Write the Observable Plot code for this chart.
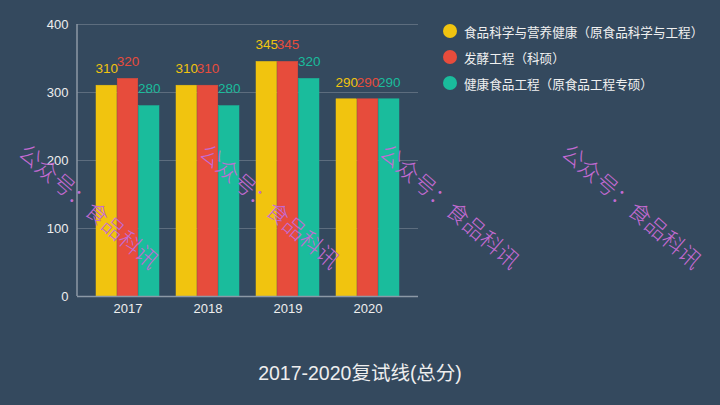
<!DOCTYPE html>
<html><head><meta charset="utf-8">
<script src="https://cdn.jsdelivr.net/npm/d3@7"></script>
<script src="https://cdn.jsdelivr.net/npm/@observablehq/plot@0.6"></script>
<style>
html,body{margin:0;padding:0;background:#34495e;}
#root{position:relative;width:720px;height:405px;overflow:hidden;background:#34495e;font-family:"Liberation Sans","Noto Sans CJK SC",sans-serif;}
#chart{position:absolute;left:0;top:0;}
#legend{position:absolute;left:443px;top:18px;color:#f0f0f0;font-size:12.6px;font-family:"Noto Sans CJK SC",sans-serif;}
.item{display:flex;align-items:center;height:26px;white-space:nowrap;}
.dot{width:14px;height:14px;border-radius:50%;margin-right:7px;flex:none;}
#title{position:absolute;left:0;width:720px;top:363px;line-height:20px;text-align:center;color:#eee;font-size:19.5px;font-family:"Liberation Sans","Noto Sans CJK SC",sans-serif;}
.wm{position:absolute;color:#c46bd3;font-size:22px;line-height:24px;white-space:nowrap;transform:translate(-50%,-50%) rotate(41deg);font-family:"Noto Sans CJK SC",sans-serif;font-weight:300;pointer-events:none;}
</style>
</head><body>
<div id="root">
  <div id="chart"></div>
  <div id="legend"></div>
  <div id="title"></div>
</div>
<script>
const years = ["2017", "2018", "2019", "2020"];
const series = ["食品科学与营养健康（原食品科学与工程）", "发酵工程（科硕）", "健康食品工程（原食品工程专硕）"];
const colors = ["#f1c40f", "#e74c3c", "#1abc9c"];
const scoresA = [310, 310, 345, 290];
const scoresB = [320, 310, 345, 290];
const scoresC = [280, 280, 320, 290];
const yTicks = [0, 100, 200, 300, 400];
const titleText = "2017-2020复试线(总分)";
const watermarkText = "公众号：食品科讯";

const values = [scoresA, scoresB, scoresC];
const rows = years.flatMap((yr, i) => series.map((s, j) => ({year: yr, series: s, k: j, value: values[j][i]})));

const W = 720, H = 330, mL = 77, mR = 302, mT = 24, mB = 34;
const padI = 0.21, padO = 0.22;
const step = (W - mL - mR) / (years.length - padI + 2 * padO);
const sub = step * (1 - padI) / series.length;

const marks = [
  Plot.gridY(yTicks, {stroke: "#5d6d7e", strokeOpacity: 1}),
  ...series.map((s, j) => Plot.barY(rows.filter(r => r.k === j), {
    x: "year", y: "value", fill: colors[j], stroke: colors[j], strokeWidth: 0.5,
    insetLeft: j * sub, insetRight: (series.length - 1 - j) * sub
  })),
  ...series.map((s, j) => Plot.text(rows.filter(r => r.k === j), {
    x: "year", y: "value", text: d => String(d.value), fill: colors[j],
    dx: (j - 1) * sub, dy: -17, fontSize: 13.5
  })),
  Plot.ruleY([0], {stroke: "#8c99a6", strokeWidth: 1.5}),
  Plot.axisY(yTicks, {tickSize: 0, tickPadding: 9, fontSize: 13, fill: "#eeeeee", label: null}),
  Plot.axisX({tickSize: 0, tickPadding: 7, fontSize: 13, fill: "#eeeeee", label: null})
];

const plot = Plot.plot({
  width: W, height: H,
  marginLeft: mL, marginRight: mR, marginTop: mT, marginBottom: mB,
  style: {background: "transparent", color: "#eeeeee", fontFamily: "'Liberation Sans','Noto Sans CJK SC',sans-serif", fontSize: "13px"},
  x: {domain: years, paddingInner: padI, paddingOuter: padO, label: null},
  y: {domain: [0, 400], label: null},
  marks
});

// left axis line using the plot's own scales
const xs = plot.scale("x"), ys = plot.scale("y");
d3.select(plot).append("line")
  .attr("x1", xs.range[0]).attr("x2", xs.range[0])
  .attr("y1", ys.apply(0)).attr("y2", ys.apply(400))
  .attr("stroke", "#8c99a6").attr("stroke-width", 1.5);

document.getElementById("chart").appendChild(plot);

const legend = document.getElementById("legend");
series.forEach((s, j) => {
  const it = document.createElement("div");
  it.className = "item";
  const dot = document.createElement("span");
  dot.className = "dot"; dot.style.background = colors[j];
  const tx = document.createElement("span");
  tx.textContent = s;
  it.appendChild(dot); it.appendChild(tx);
  legend.appendChild(it);
});

document.getElementById("title").textContent = titleText;

const root = document.getElementById("root");
[[90, 205], [271, 205], [451, 205], [633, 205]].forEach(([cx, cy]) => {
  const w = document.createElement("div");
  w.className = "wm";
  w.style.left = cx + "px"; w.style.top = cy + "px";
  w.textContent = watermarkText;
  root.appendChild(w);
});
</script>
</body></html>
